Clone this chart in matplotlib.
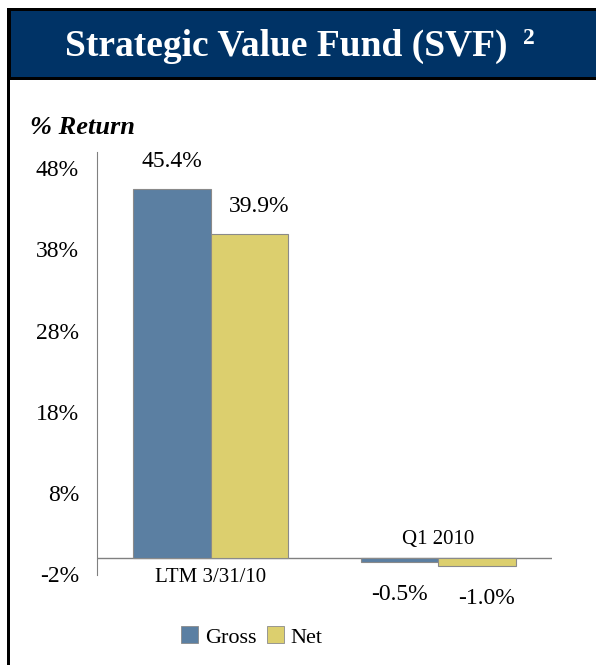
import matplotlib
matplotlib.use("Agg")
import matplotlib.pyplot as plt
from matplotlib.patches import Rectangle, Patch
import numpy as np

plt.rcParams['font.family'] = ['Liberation Serif', 'DejaVu Serif']

categories = ["LTM 3/31/10", "Q1 2010"]
gross = [45.4, -0.5]
net = [39.9, -1.0]
series_names = ["Gross", "Net"]
yticks = [-2, 8, 18, 28, 38, 48]

blue = "#5b7fa2"
yellow = "#dccf6e"
navy = "#003366"

fig = plt.figure(figsize=(5.96, 6.65), dpi=100)
W, H = 596.0, 665.0

# title band with black frame
fig.patches.append(Rectangle((7 / W, 1 - 80 / H), 1 - 7 / W, 72 / H,
                             transform=fig.transFigure, facecolor="black", edgecolor="none"))
fig.patches.append(Rectangle((11 / W, 1 - 77 / H), 1 - 11 / W, 66 / H,
                             transform=fig.transFigure, facecolor=navy, edgecolor="none"))
# left border line
fig.patches.append(Rectangle((7 / W, 0), 3 / W, 1 - 80 / H,
                             transform=fig.transFigure, facecolor="black", edgecolor="none"))

fig.text(286 / W, 1 - 46 / H, "Strategic Value Fund (SVF)", color="white",
         fontsize=27, fontweight="bold", ha="center", va="center")
fig.text(529 / W, 1 - 38 / H, "2", color="white",
         fontsize=17, fontweight="bold", ha="center", va="center")

fig.text(30 / W, 1 - 128 / H, "% Return", fontsize=19, fontweight="bold",
         fontstyle="italic", ha="left", va="center")

ax = fig.add_axes([97 / W, 1 - 575 / H, 455 / W, 423 / H])
x = np.arange(len(categories))
w = 0.34
b1 = ax.bar(x - w / 2, gross, w, color=blue, edgecolor="#8a8a8a", linewidth=0.8, label=series_names[0])
b2 = ax.bar(x + w / 2, net, w, color=yellow, edgecolor="#8a8a8a", linewidth=0.8, label=series_names[1])

ax.set_xlim(-0.5, 1.5)
ax.set_ylim(-2.1, 50)
ax.set_yticks(yticks)
ax.set_yticklabels([f"{t}%" for t in yticks], fontsize=17)
ax.tick_params(axis="y", length=0, pad=13)
ax.set_xticks([])
ax.axhline(0, color="#808080", linewidth=1.0, zorder=0.5)
for s in ["top", "right", "bottom"]:
    ax.spines[s].set_visible(False)
ax.spines["left"].set_color("#808080")

# value labels
for bars, vals, dx in [(b1, gross, 0), (b2, net, 10)]:
    for bar, v in zip(bars, vals):
        cx = bar.get_x() + bar.get_width() / 2
        off = 28 if v >= 0 else -32
        ax.annotate(f"{v:.1f}%", (cx, v), xytext=(dx * 0.72, off * 0.72),
                    textcoords="offset points", ha="center", va="center", fontsize=17)

# category labels: below axis for positive, above for negative
for i, cat in enumerate(categories):
    if gross[i] >= 0:
        ax.annotate(cat, (i, 0), xytext=(0, -14), textcoords="offset points",
                    ha="center", va="center", fontsize=15)
    else:
        ax.annotate(cat, (i, 0), xytext=(0, 13), textcoords="offset points",
                    ha="center", va="center", fontsize=15)

handles = [Patch(facecolor=blue, edgecolor="#8a8a8a", linewidth=0.6),
           Patch(facecolor=yellow, edgecolor="#8a8a8a", linewidth=0.6)]
fig.legend(handles, series_names, loc="center", bbox_to_anchor=(252 / W, 1 - 637 / H),
           ncol=2, frameon=False, fontsize=16, handlelength=0.75, handleheight=0.8,
           handletextpad=0.3, columnspacing=0.5)

fig.savefig("out.png", dpi=100)
